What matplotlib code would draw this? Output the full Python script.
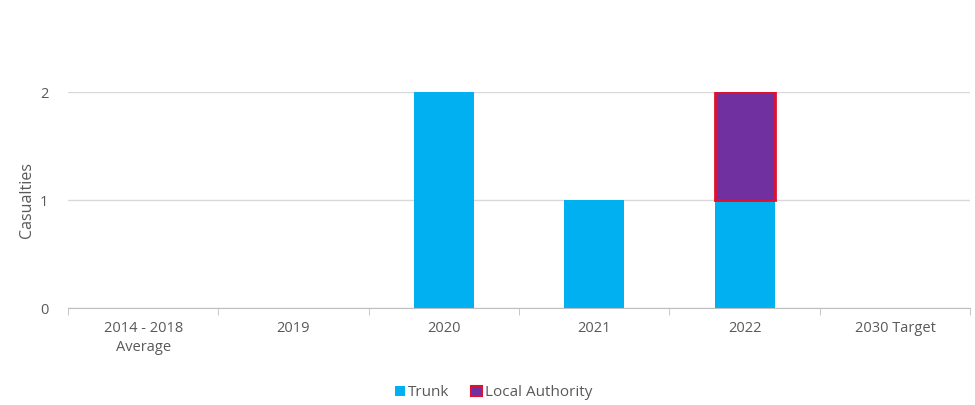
import numpy as np
import matplotlib.pyplot as plt
from matplotlib.patches import Patch

categories = ['2014 - 2018\nAverage', '2019', '2020', '2021', '2022', '2030 Target']
trunk = [0, 0, 2, 1, 1, 0]
local_authority = [0, 0, 0, 0, 1, 0]

trunk_col = '#00B0F0'
la_col = '#7030A0'
la_edge = '#E0102E'
text_col = '#595959'

plt.rcParams['font.family'] = ['Open Sans', 'DejaVu Sans']

fig = plt.figure(figsize=(9.75, 4.05), dpi=100)
ax = fig.add_axes([0.0697, 0.2395, 0.9253, 0.5333])

x = np.arange(len(categories))
ax.bar(x, trunk, width=0.4, color=trunk_col, zorder=3)
la_edges = [la_edge if v > 0 else 'none' for v in local_authority]
ax.bar(x, local_authority, width=0.4, bottom=trunk, color=la_col,
       edgecolor=la_edges, linewidth=2, zorder=3)

ax.set_xlim(-0.5, len(categories) - 0.5)
ax.set_ylim(0, 2)
ax.set_yticks([0, 1, 2])
ax.yaxis.grid(True, color='#D9D9D9', linewidth=1, zorder=0)

# category ticks sit on the boundaries between groups
ax.set_xticks(x)
ax.set_xticklabels(categories, color=text_col, fontsize=10.5, linespacing=1.45)
ax.set_xticks(np.arange(-0.5, len(categories)), minor=True)
ax.tick_params(axis='x', which='major', length=0, pad=9)
ax.tick_params(axis='x', which='minor', length=5, color='#BFBFBF', direction='out')
ax.tick_params(axis='y', length=0, colors=text_col, labelsize=10.5, pad=14)

for s in ['top', 'right', 'left']:
    ax.spines[s].set_visible(False)
ax.spines['bottom'].set_color('#BFBFBF')
ax.spines['bottom'].set_zorder(4)

ax.set_ylabel('Casualties', color=text_col, fontsize=11.5, labelpad=4)

handles = [Patch(facecolor=trunk_col, edgecolor='none', label='Trunk'),
           Patch(facecolor=la_col, edgecolor=la_edge, linewidth=1.5, label='Local Authority')]
fig.legend(handles=handles, loc='center', bbox_to_anchor=(0.506, 0.03), ncol=2,
           frameon=False, fontsize=11, handlelength=0.7, handleheight=0.7,
           handletextpad=0.2, columnspacing=1.4, labelcolor=text_col)

fig.savefig('out.png', dpi=100)
